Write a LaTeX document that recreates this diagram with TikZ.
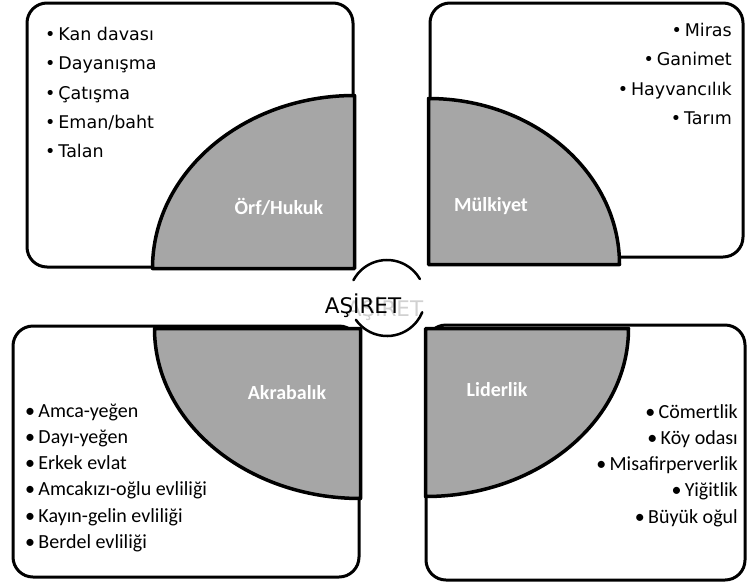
\documentclass[tikz,border=0pt]{standalone}
\usepackage{fontspec}
\setmainfont{DejaVu Sans}
\newfontfamily\calfont{Carlito}
\usepackage{tikz}
\usetikzlibrary{calc}
\usetikzlibrary{matrix,positioning}
\definecolor{wedgegray}{rgb}{0.65,0.65,0.65}
\newcommand{\bu}{\textbullet\,}

\begin{document}
\begin{tikzpicture}[x=1pt,y=1pt,
    box/.style={draw,line width=3pt,rounded corners=20pt,inner sep=0pt},
    wedge/.style={fill=wedgegray,draw,line width=3.5pt,line join=round},
    tag/.style={text=white,font=\calfont\bfseries\fontsize{20}{24}\selectfont},
    toplist/.style={matrix of nodes,inner sep=0pt,row sep=12.4pt,
      nodes={inner sep=0pt,text height=13pt,text depth=4pt,font=\fontsize{17.5}{21}\selectfont}},
    botlist/.style={matrix of nodes,inner sep=0pt,row sep=8.2pt,
      nodes={inner sep=0pt,text height=14pt,text depth=4pt,font=\calfont\fontsize{20}{24}\selectfont}},
    ring/.style={line width=2.5pt,line cap=round}]
        \useasboundingbox (0,0) rectangle (747,-582);
        % four boxes
        \node[box,minimum width=326pt,minimum height=264pt] (orf)   at (190,-135)   {};
        \node[box,minimum width=313pt,minimum height=254pt] (mulk)  at (586.5,-130) {};
        \node[box,minimum width=346pt,minimum height=251pt] (akra)  at (186,-451.5) {};
        \node[box,minimum width=319pt,minimum height=255pt] (lider) at (585.5,-452.5) {};
        % gray quarters
        \draw[wedge] (orf.south east) -- ++(-202,0)
          arc[start angle=180,end angle=90,x radius=202,y radius=173] -- cycle;
        \draw[wedge] ([yshift=-6pt]mulk.south west) -- ++(0,166)
          arc[start angle=90,end angle=0,x radius=191,y radius=166] -- cycle;
        \draw[wedge] ([yshift=-4pt]akra.north east) -- ++(-206,0)
          arc[start angle=180,end angle=270,x radius=206,y radius=170] -- cycle;
        \draw[wedge] ([shift={(1pt,-5pt)}]lider.north west) -- ++(203,0)
          arc[start angle=0,end angle=-90,x radius=203,y radius=168] -- cycle;
        \node[tag] (orftag)   at (279,-207) {Örf/Hukuk};
        \node[tag] (mulktag)  at (491,-206) {Mülkiyet};
        \node[tag] (akratag)  at (287,-393) {Akrabalık};
        \node[tag] (lidertag) at (497,-390) {Liderlik};
        % lists
        \matrix (orflist) [toplist,column 1/.style={anchor=base west},anchor=north west] at (45,-27) {
          \bu Kan davası \\
          \bu Dayanışma \\
          \bu Çatışma \\
          \bu Eman/baht \\
          \bu Talan \\
        };
        \matrix (mulklist) [toplist,column 1/.style={anchor=base east},anchor=north east] at (732,-23) {
          \bu Miras \\
          \bu Ganimet \\
          \bu Hayvancılık \\
          \bu Tarım \\
        };
        \matrix (akralist) [botlist,column 1/.style={anchor=base west},anchor=north west] at (25,-403) {
          \bu Amca-yeğen \\
          \bu Dayı-yeğen \\
          \bu Erkek evlat \\
          \bu Amcakızı-oğlu evliliği \\
          \bu Kayın-gelin evliliği \\
          \bu Berdel evliliği \\
        };
        \matrix (liderlist) [botlist,column 1/.style={anchor=base east},anchor=north east] at (738,-404) {
          \bu Cömertlik \\
          \bu Köy odası \\
          \bu Misafirperverlik \\
          \bu Yiğitlik \\
          \bu Büyük oğul \\
        };
        % center
        \coordinate (hub) at (387,-298);
        \draw[ring] ($(hub)+(152:38)$) arc[start angle=152,end angle=30,radius=38];
        \draw[ring] ($(hub)+(215:38)$) arc[start angle=215,end angle=338,radius=38];
        \node[text=black!18,font=\fontsize{21.5}{24}\selectfont] (ghost) at (385,-309) {AŞİRET};
        \node[font=\fontsize{21.5}{24}\selectfont] (asiret) at (363,-306) {AŞİRET};
\end{tikzpicture}
\end{document}
